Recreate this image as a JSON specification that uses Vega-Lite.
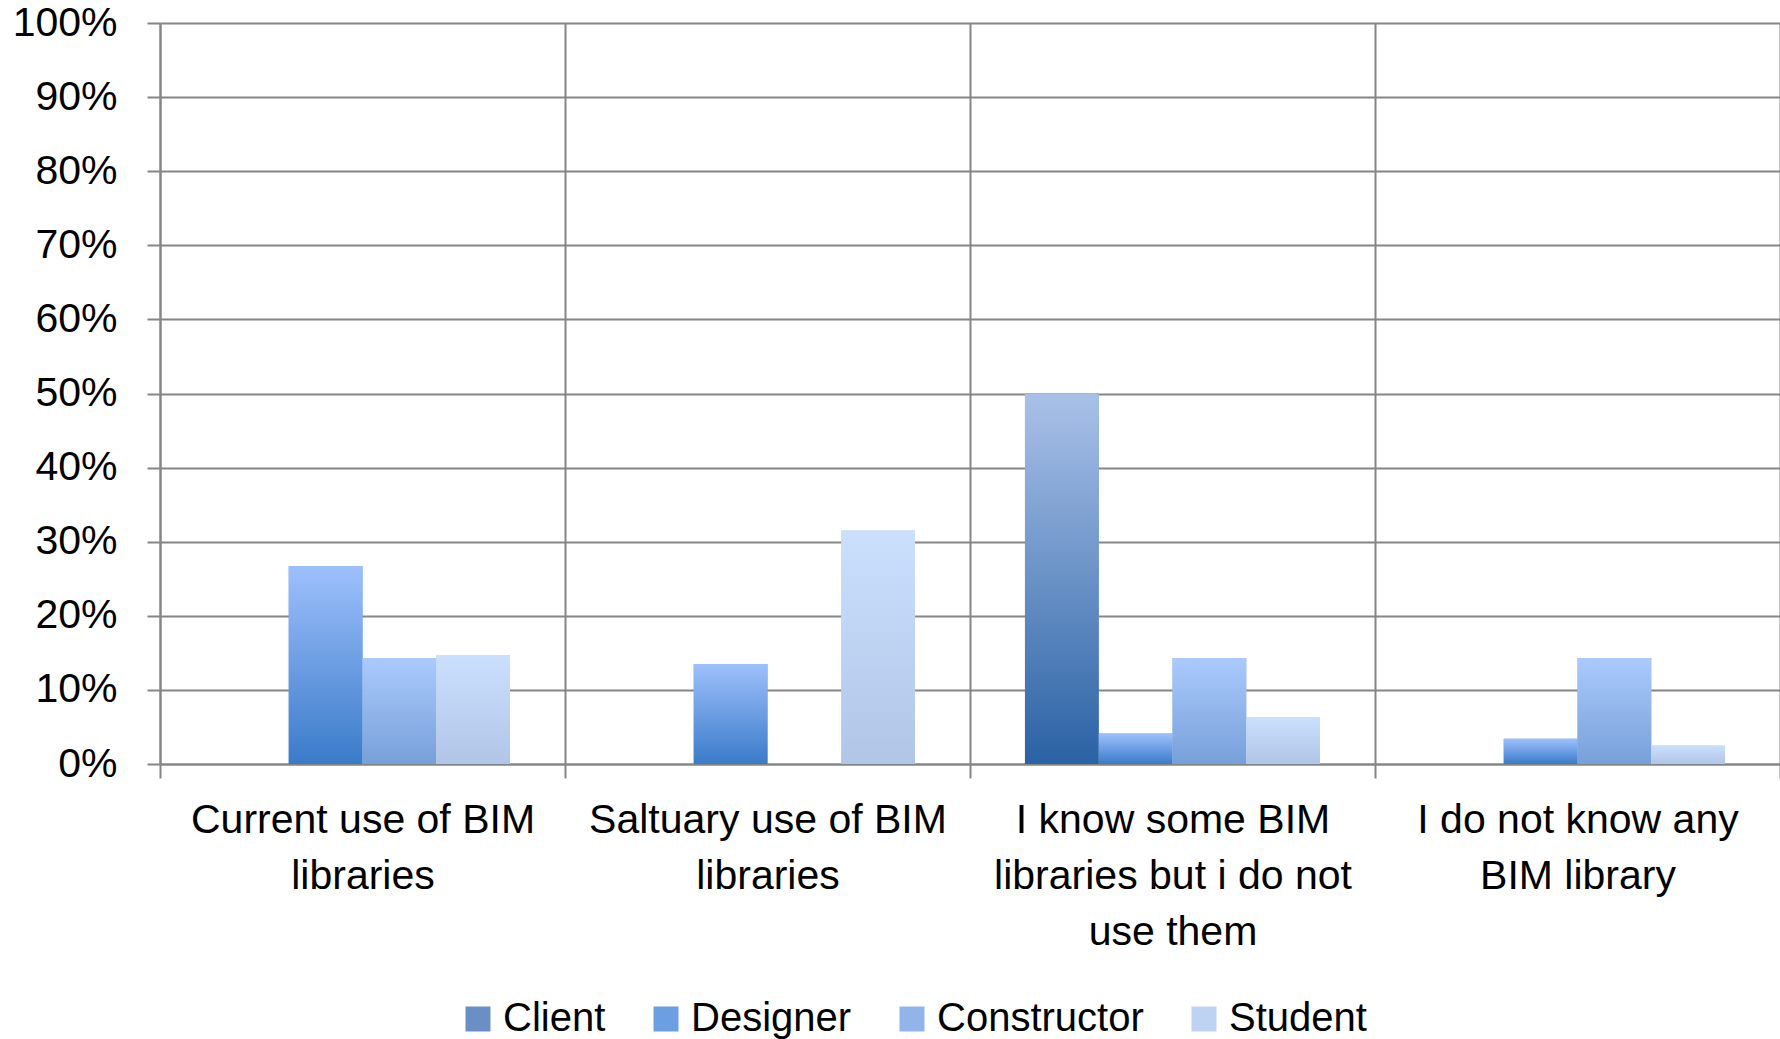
{
  "$schema": "https://vega.github.io/schema/vega-lite/v6.json",
  "width": 1620,
  "height": 741,
  "autosize": {"type": "none"},
  "padding": {"left": 160, "top": 23, "right": 0, "bottom": 275},
  "background": "white",
  "config": {"view": {"stroke": null}, "font": "Liberation Sans"},
  "data": {
    "values": [
      {"category": "Current use of BIM libraries", "role": "Client", "value": 0},
      {"category": "Current use of BIM libraries", "role": "Designer", "value": 0.267},
      {"category": "Current use of BIM libraries", "role": "Constructor", "value": 0.143},
      {"category": "Current use of BIM libraries", "role": "Student", "value": 0.147},
      {"category": "Saltuary use of BIM libraries", "role": "Client", "value": 0},
      {"category": "Saltuary use of BIM libraries", "role": "Designer", "value": 0.135},
      {"category": "Saltuary use of BIM libraries", "role": "Constructor", "value": 0},
      {"category": "Saltuary use of BIM libraries", "role": "Student", "value": 0.315},
      {"category": "I know some BIM libraries but i do not use them", "role": "Client", "value": 0.5},
      {"category": "I know some BIM libraries but i do not use them", "role": "Designer", "value": 0.041},
      {"category": "I know some BIM libraries but i do not use them", "role": "Constructor", "value": 0.143},
      {"category": "I know some BIM libraries but i do not use them", "role": "Student", "value": 0.063},
      {"category": "I do not know any BIM library", "role": "Client", "value": 0},
      {"category": "I do not know any BIM library", "role": "Designer", "value": 0.034},
      {"category": "I do not know any BIM library", "role": "Constructor", "value": 0.143},
      {"category": "I do not know any BIM library", "role": "Student", "value": 0.025}
    ]
  },
  "encoding": {
    "x": {
      "field": "category",
      "type": "nominal",
      "sort": null,
      "scale": {
        "domain": ["Current use of BIM libraries", "Saltuary use of BIM libraries", "I know some BIM libraries but i do not use them", "I do not know any BIM library"],
        "paddingInner": 0,
        "paddingOuter": 0
      },
      "axis": {
        "title": null,
        "tickBand": "extent",
        "grid": true,
        "gridColor": "#868686",
        "gridWidth": 2,
        "domain": true,
        "domainColor": "#868686",
        "domainWidth": 2,
        "ticks": true,
        "tickColor": "#868686",
        "tickWidth": 2,
        "tickSize": 14,
        "labelFontSize": 41,
        "labelColor": "black",
        "labelAngle": 0,
        "labelPadding": 22,
        "labelLineHeight": 56,
        "labelLimit": 0,
        "labelExpr": "datum.value == 'Current use of BIM libraries' ? ['Current use of BIM', 'libraries'] : datum.value == 'Saltuary use of BIM libraries' ? ['Saltuary use of BIM', 'libraries'] : datum.value == 'I know some BIM libraries but i do not use them' ? ['I know some BIM', 'libraries but i do not', 'use them'] : datum.value == 'I do not know any BIM library' ? ['I do not know any', 'BIM library'] : ''"
      }
    },
    "xOffset": {
      "field": "role",
      "type": "nominal",
      "scale": {
        "domain": ["Client", "Designer", "Constructor", "Student"],
        "paddingInner": 0,
        "paddingOuter": 0.745
      }
    },
    "y": {
      "field": "value",
      "type": "quantitative",
      "scale": {"domain": [0, 1], "nice": false},
      "axis": {
        "title": null,
        "format": ".0%",
        "values": [0, 0.1, 0.2, 0.3, 0.4, 0.5, 0.6, 0.7, 0.8, 0.9, 1],
        "grid": true,
        "gridColor": "#868686",
        "gridWidth": 2,
        "domain": true,
        "domainColor": "#868686",
        "domainWidth": 2,
        "tickColor": "#868686",
        "tickWidth": 2,
        "tickSize": 13,
        "labelFontSize": 41,
        "labelColor": "black",
        "labelPadding": 30,
        "labelFlush": false
      }
    }
  },
  "layer": [
    {
      "mark": {"type": "bar", "opacity": 1},
      "encoding": {
        "color": {
          "field": "role",
          "type": "nominal",
          "scale": {
            "domain": ["Client", "Designer", "Constructor", "Student"],
            "range": ["#6a8fc7", "#6c9ee2", "#91b5eb", "#bed2f2"]
          },
          "legend": {
            "title": null,
            "orient": "none",
            "direction": "horizontal",
            "legendX": 298,
            "legendY": 976,
            "symbolType": "square",
            "symbolSize": 625,
            "symbolStrokeWidth": 0,
            "symbolOpacity": 1,
            "labelFontSize": 40,
            "labelColor": "black",
            "labelOffset": 5,
            "labelLimit": 0,
            "columnPadding": 40
          }
        }
      }
    },
    {
      "transform": [{"filter": "datum.role == 'Client' && datum.value > 0"}],
      "mark": {
        "type": "bar",
        "color": {"gradient": "linear", "x1": 0, "y1": 0, "x2": 0, "y2": 1, "stops": [{"offset": 0, "color": "#a9c1e8"}, {"offset": 1, "color": "#2a62a4"}]}
      }
    },
    {
      "transform": [{"filter": "datum.role == 'Designer' && datum.value > 0"}],
      "mark": {
        "type": "bar",
        "color": {"gradient": "linear", "x1": 0, "y1": 0, "x2": 0, "y2": 1, "stops": [{"offset": 0, "color": "#9ec0fc"}, {"offset": 1, "color": "#3a7bc9"}]}
      }
    },
    {
      "transform": [{"filter": "datum.role == 'Constructor' && datum.value > 0"}],
      "mark": {
        "type": "bar",
        "color": {"gradient": "linear", "x1": 0, "y1": 0, "x2": 0, "y2": 1, "stops": [{"offset": 0, "color": "#abcafc"}, {"offset": 1, "color": "#77a0d9"}]}
      }
    },
    {
      "transform": [{"filter": "datum.role == 'Student' && datum.value > 0"}],
      "mark": {
        "type": "bar",
        "color": {"gradient": "linear", "x1": 0, "y1": 0, "x2": 0, "y2": 1, "stops": [{"offset": 0, "color": "#cbe0fd"}, {"offset": 1, "color": "#b1c5e7"}]}
      }
    }
  ]
}
